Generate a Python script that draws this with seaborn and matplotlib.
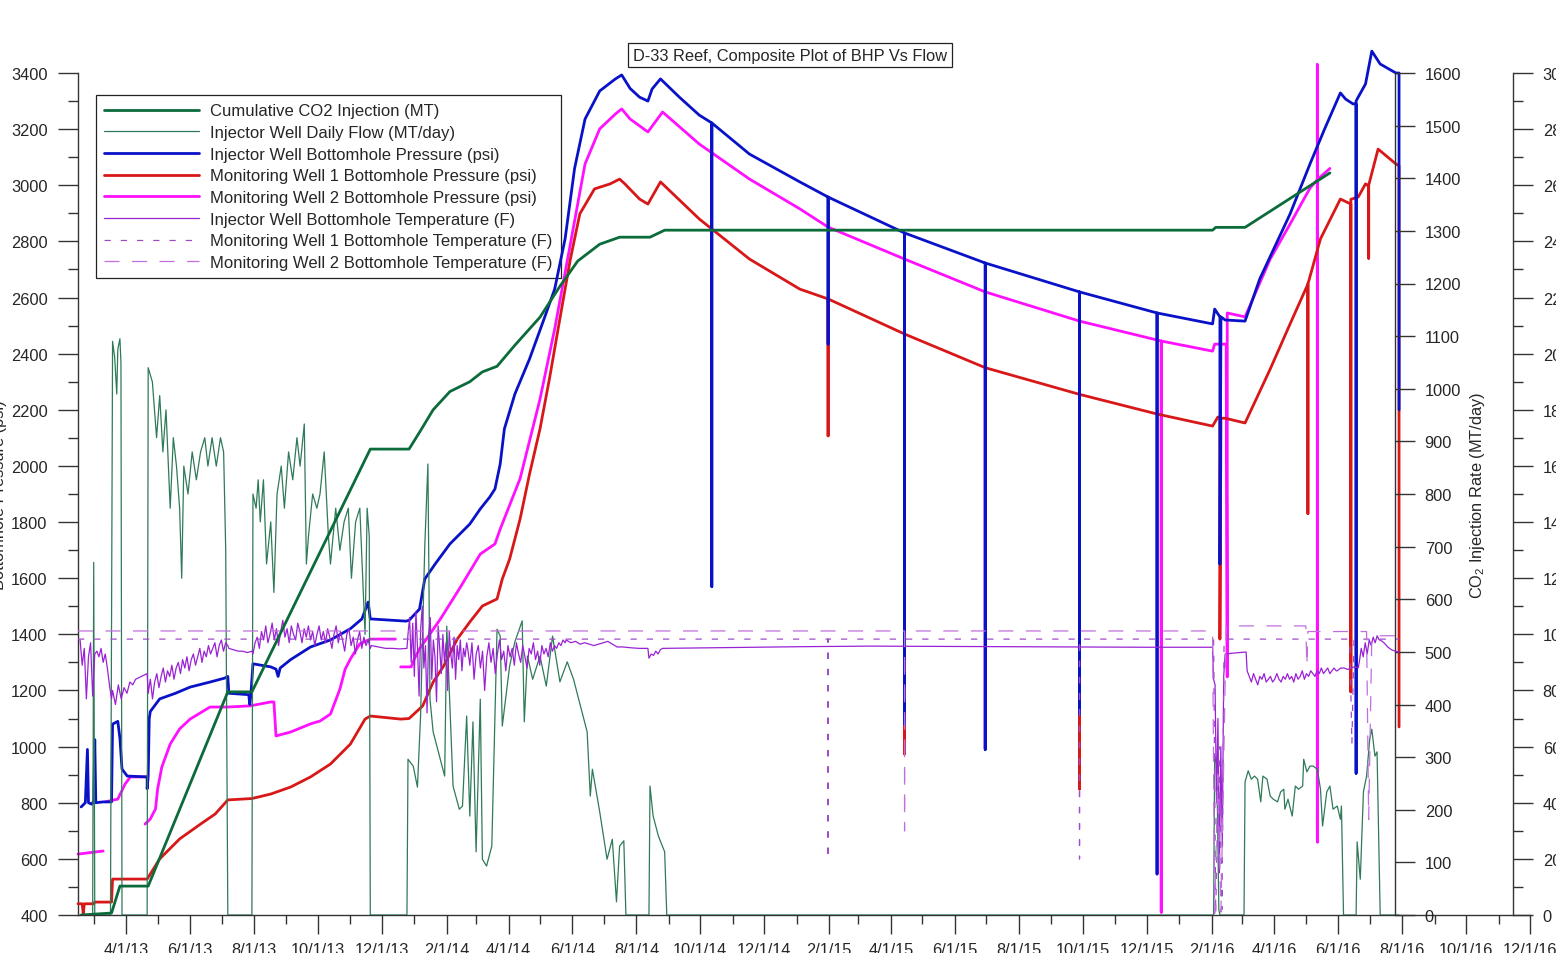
import matplotlib
matplotlib.use("Agg")
import matplotlib.pyplot as plt
import matplotlib.dates as mdates
from matplotlib.lines import Line2D
from matplotlib.ticker import MultipleLocator, FuncFormatter
import numpy as np
import pandas as pd
import seaborn as sns

sns.set_style("ticks")
plt.rcParams["font.family"] = ["Liberation Sans", "DejaVu Sans"]
plt.rcParams["axes.linewidth"] = 1.0

# ---------------- data ----------------
title = "D-33 Reef, Composite Plot of BHP Vs Flow"
legend_labels = [
    "Cumulative CO2 Injection (MT)",
    "Injector Well Daily Flow (MT/day)",
    "Injector Well Bottomhole Pressure (psi)",
    "Monitoring Well 1 Bottomhole Pressure (psi)",
    "Monitoring Well 2 Bottomhole Pressure (psi)",
    "Injector Well Bottomhole Temperature (F)",
    "Monitoring Well 1 Bottomhole Temperature (F)",
    "Monitoring Well 2 Bottomhole Temperature (F)",
]

# cumulative CO2 injected (MT)
cum_co2 = [("2013-02-17", 0), ("2013-03-18", 700), ("2013-03-26", 10300), ("2013-04-22", 10300),
           ("2013-07-07", 79500), ("2013-07-30", 79500), ("2013-11-20", 166000), ("2013-12-27", 166000),
           ("2014-01-06", 172000), ("2014-01-19", 180000), ("2014-02-04", 186500), ("2014-02-23", 190000),
           ("2014-03-07", 193500), ("2014-03-21", 195500), ("2014-04-07", 203000), ("2014-05-01", 213000),
           ("2014-05-20", 224000), ("2014-06-06", 233000), ("2014-06-27", 239000), ("2014-07-16", 241500),
           ("2014-08-14", 241500), ("2014-08-28", 244000), ("2016-02-02", 244000), ("2016-02-05", 245000),
           ("2016-03-04", 245000), ("2016-05-24", 264400)]

# injector daily flow (MT/day)
daily_flow = [
    ("2013-02-14", 0), ("2013-02-28", 0), ("2013-03-01", 670), ("2013-03-02", 0),
    ("2013-03-17", 0), ("2013-03-19", 1090), ("2013-03-21", 1060), ("2013-03-23", 990), ("2013-03-24", 1075),
    ("2013-03-26", 1095), ("2013-03-27", 1050), ("2013-03-28", 0),
    ("2013-04-21", 0), ("2013-04-22", 1040), ("2013-04-26", 1013), ("2013-04-30", 907), ("2013-05-03", 987),
    ("2013-05-06", 880), ("2013-05-09", 960), ("2013-05-13", 773), ("2013-05-16", 907), ("2013-05-19", 853),
    ("2013-05-22", 773), ("2013-05-24", 640), ("2013-05-26", 853), ("2013-05-30", 800), ("2013-06-03", 880),
    ("2013-06-07", 827), ("2013-06-11", 880), ("2013-06-15", 907), ("2013-06-18", 853), ("2013-06-22", 907),
    ("2013-06-26", 853), ("2013-06-30", 907), ("2013-07-03", 880), ("2013-07-05", 693), ("2013-07-07", 0),
    ("2013-07-30", 0), ("2013-07-31", 800), ("2013-08-03", 773), ("2013-08-05", 827), ("2013-08-07", 747),
    ("2013-08-10", 827), ("2013-08-13", 667), ("2013-08-17", 747), ("2013-08-20", 613), ("2013-08-23", 800),
    ("2013-08-27", 853), ("2013-08-30", 773), ("2013-09-03", 880), ("2013-09-07", 827), ("2013-09-11", 907),
    ("2013-09-14", 853), ("2013-09-18", 933), ("2013-09-20", 667), ("2013-09-22", 720), ("2013-09-26", 800),
    ("2013-09-30", 773), ("2013-10-03", 800), ("2013-10-07", 880), ("2013-10-11", 720), ("2013-10-13", 667),
    ("2013-10-18", 773), ("2013-10-22", 693), ("2013-10-26", 747), ("2013-10-30", 773), ("2013-11-02", 640),
    ("2013-11-06", 747), ("2013-11-10", 773), ("2013-11-15", 533), ("2013-11-17", 773), ("2013-11-19", 720),
    ("2013-11-20", 0),
    ("2013-12-25", 0), ("2013-12-26", 296), ("2013-12-31", 283), ("2014-01-04", 243), ("2014-01-07", 378),
    ("2014-01-11", 700), ("2014-01-14", 857), ("2014-01-16", 410), ("2014-01-19", 348), ("2014-01-30", 264),
    ("2014-02-01", 549), ("2014-02-07", 245), ("2014-02-13", 201), ("2014-02-16", 207), ("2014-02-20", 378),
    ("2014-02-23", 188), ("2014-02-26", 367), ("2014-03-01", 120), ("2014-03-05", 410), ("2014-03-07", 106),
    ("2014-03-11", 93), ("2014-03-16", 131), ("2014-03-21", 543), ("2014-03-24", 530), ("2014-03-26", 359),
    ("2014-04-02", 473), ("2014-04-07", 519), ("2014-04-14", 559), ("2014-04-16", 367), ("2014-04-19", 492),
    ("2014-04-24", 448), ("2014-05-01", 492), ("2014-05-07", 435), ("2014-05-13", 530), ("2014-05-20", 443),
    ("2014-05-27", 481), ("2014-06-02", 448), ("2014-06-10", 386), ("2014-06-15", 348), ("2014-06-18", 226),
    ("2014-06-20", 277), ("2014-06-27", 196), ("2014-07-04", 106), ("2014-07-09", 144), ("2014-07-13", 25),
    ("2014-07-16", 131), ("2014-07-20", 141), ("2014-07-22", 0),
    ("2014-08-13", 0), ("2014-08-14", 245), ("2014-08-17", 188), ("2014-08-22", 150), ("2014-08-28", 120),
    ("2014-08-30", 0),
    ("2016-02-03", 0), ("2016-02-04", 302), ("2016-02-06", 287), ("2016-02-08", 10), ("2016-02-09", 0),
    ("2016-03-03", 0), ("2016-03-04", 253), ("2016-03-07", 274), ("2016-03-10", 258), ("2016-03-13", 264),
    ("2016-03-16", 258), ("2016-03-19", 215), ("2016-03-21", 264), ("2016-03-25", 258), ("2016-03-28", 226),
    ("2016-03-31", 220), ("2016-04-04", 215), ("2016-04-07", 234), ("2016-04-10", 239), ("2016-04-11", 201),
    ("2016-04-14", 220), ("2016-04-18", 188), ("2016-04-21", 245), ("2016-04-24", 239), ("2016-04-28", 245),
    ("2016-04-29", 296), ("2016-05-02", 272), ("2016-05-05", 283), ("2016-05-08", 283), ("2016-05-12", 277),
    ("2016-05-15", 239), ("2016-05-17", 169), ("2016-05-21", 234), ("2016-05-24", 245), ("2016-05-27", 201),
    ("2016-05-31", 207), ("2016-06-03", 182), ("2016-06-04", 207), ("2016-06-06", 0),
    ("2016-06-18", 0), ("2016-06-19", 139), ("2016-06-22", 68), ("2016-06-25", 234), ("2016-06-28", 264),
    ("2016-07-01", 334), ("2016-07-03", 353), ("2016-07-06", 302), ("2016-07-08", 310), ("2016-07-11", 0),
    ("2016-07-29", 0),
]

# injector bottomhole pressure (psi)
inj_bhp = [
    ("2013-02-17", 785), ("2013-02-21", 800), ("2013-02-23", 990), ("2013-02-24", 800), ("2013-02-27", 795),
    ("2013-03-01", 805), ("2013-03-02", 1025), ("2013-03-03", 800), ("2013-03-10", 803), ("2013-03-18", 803),
    ("2013-03-19", 1080), ("2013-03-24", 1090), ("2013-03-26", 1030), ("2013-03-28", 920), ("2013-04-02", 895),
    ("2013-04-21", 892), ("2013-04-21", 850), ("2013-04-22", 895), ("2013-04-23", 1100), ("2013-04-24", 1125),
    ("2013-05-03", 1170), ("2013-05-18", 1190), ("2013-06-01", 1212), ("2013-06-20", 1230), ("2013-07-04", 1244),
    ("2013-07-07", 1250), ("2013-07-08", 1190), ("2013-07-27", 1185), ("2013-07-28", 1150), ("2013-07-29", 1185),
    ("2013-07-31", 1295), ("2013-08-17", 1284), ("2013-08-22", 1276), ("2013-08-24", 1250), ("2013-08-26", 1280),
    ("2013-09-05", 1310), ("2013-09-24", 1355), ("2013-10-13", 1380), ("2013-11-01", 1420), ("2013-11-12", 1455),
    ("2013-11-18", 1515), ("2013-11-20", 1455), ("2013-12-24", 1447), ("2013-12-27", 1450), ("2014-01-06", 1490),
    ("2014-01-11", 1597), ("2014-01-21", 1651), ("2014-02-04", 1722), ("2014-02-23", 1793), ("2014-03-05", 1847),
    ("2014-03-14", 1889), ("2014-03-19", 1918), ("2014-03-24", 2007), ("2014-03-28", 2132), ("2014-04-07", 2256),
    ("2014-04-21", 2381), ("2014-05-05", 2525), ("2014-05-15", 2630), ("2014-05-25", 2810), ("2014-06-03", 3060),
    ("2014-06-13", 3236), ("2014-06-27", 3336), ("2014-07-12", 3379), ("2014-07-18", 3393), ("2014-07-26", 3345),
    ("2014-08-04", 3314), ("2014-08-12", 3300), ("2014-08-16", 3343), ("2014-08-24", 3379), ("2014-09-11", 3314),
    ("2014-09-30", 3250), ("2014-10-12", 3222), ("2014-10-12", 1570), ("2014-10-12", 3222), ("2014-11-17", 3111),
    ("2015-01-04", 3012), ("2015-01-31", 2958), ("2015-01-31", 2434), ("2015-01-31", 2958), ("2015-04-14", 2830),
    ("2015-04-14", 1080), ("2015-04-14", 2830), ("2015-06-30", 2723), ("2015-06-30", 990), ("2015-06-30", 2723),
    ("2015-09-28", 2620), ("2015-09-28", 1115), ("2015-09-28", 2620), ("2015-12-11", 2545), ("2015-12-11", 546),
    ("2015-12-11", 2545), ("2016-02-02", 2506), ("2016-02-04", 2559), ("2016-02-09", 2531), ("2016-02-09", 1650),
    ("2016-02-10", 2531), ("2016-02-14", 2520), ("2016-03-04", 2516), ("2016-03-18", 2666), ("2016-04-16", 2898),
    ("2016-05-05", 3076), ("2016-05-19", 3201), ("2016-06-03", 3329), ("2016-06-08", 3307), ("2016-06-15", 3290),
    ("2016-06-18", 3290), ("2016-06-18", 905), ("2016-06-18", 3300), ("2016-06-20", 3314), ("2016-06-27", 3361),
    ("2016-07-03", 3478), ("2016-07-11", 3432), ("2016-07-26", 3400), ("2016-07-29", 3400), ("2016-07-29", 2200),
]

# monitoring well 1 bottomhole pressure (psi)
mw1_bhp = [
    ("2013-02-14", 440), ("2013-02-18", 440), ("2013-02-19", 405), ("2013-02-20", 440), ("2013-03-01", 440),
    ("2013-03-02", 446), ("2013-03-18", 446), ("2013-03-19", 528), ("2013-04-21", 528), ("2013-05-03", 600),
    ("2013-05-22", 671), ("2013-06-11", 724), ("2013-06-25", 760), ("2013-07-07", 810), ("2013-07-30", 815),
    ("2013-08-17", 831), ("2013-09-05", 856), ("2013-09-24", 892), ("2013-10-13", 938), ("2013-11-01", 1009),
    ("2013-11-15", 1098), ("2013-11-20", 1109), ("2013-12-19", 1098), ("2013-12-27", 1100), ("2014-01-09", 1145),
    ("2014-01-19", 1230), ("2014-01-29", 1287), ("2014-02-11", 1383), ("2014-02-23", 1444), ("2014-03-07", 1501),
    ("2014-03-21", 1526), ("2014-03-26", 1597), ("2014-04-02", 1668), ("2014-04-12", 1811), ("2014-04-21", 1971),
    ("2014-05-01", 2132), ("2014-05-10", 2310), ("2014-05-20", 2525), ("2014-05-30", 2737), ("2014-06-08", 2898),
    ("2014-06-22", 2987), ("2014-07-07", 3005), ("2014-07-16", 3022), ("2014-07-21", 3005), ("2014-08-04", 2951),
    ("2014-08-12", 2933), ("2014-08-24", 3012), ("2014-09-30", 2880), ("2014-11-17", 2737), ("2015-01-04", 2630),
    ("2015-01-31", 2595), ("2015-01-31", 2107), ("2015-01-31", 2595), ("2015-04-14", 2470), ("2015-04-14", 974),
    ("2015-04-14", 2470), ("2015-06-30", 2350), ("2015-09-28", 2255), ("2015-09-28", 849), ("2015-09-28", 2255),
    ("2015-12-11", 2185), ("2016-02-02", 2142), ("2016-02-07", 2174), ("2016-02-09", 2174), ("2016-02-09", 1383),
    ("2016-02-10", 2170), ("2016-02-14", 2170), ("2016-03-04", 2153), ("2016-03-28", 2345), ("2016-04-16", 2506),
    ("2016-05-03", 2648), ("2016-05-03", 1830), ("2016-05-03", 2648), ("2016-05-15", 2809), ("2016-06-03", 2951),
    ("2016-06-13", 2933), ("2016-06-13", 1195), ("2016-06-13", 2950), ("2016-06-20", 2958), ("2016-06-27", 3005),
    ("2016-06-30", 2997), ("2016-06-30", 2740), ("2016-06-30", 3000), ("2016-07-09", 3129), ("2016-07-26", 3076),
    ("2016-07-29", 3070), ("2016-07-29", 1070),
]

# monitoring well 2 bottomhole pressure (psi); None = gap in record
mw2_bhp = [
    ("2013-02-14", 617), ("2013-03-10", 628), (None, None),
    ("2013-03-12", 803), ("2013-03-24", 813), ("2013-03-31", 867), ("2013-04-05", 892), ("2013-04-21", 892), (None, None),
    ("2013-04-19", 724), ("2013-04-24", 742), ("2013-04-29", 778), ("2013-05-01", 849), ("2013-05-05", 927),
    ("2013-05-13", 1009), ("2013-05-22", 1063), ("2013-06-01", 1098), ("2013-06-20", 1141), ("2013-07-07", 1141),
    ("2013-07-28", 1145), ("2013-08-17", 1159), ("2013-08-20", 1159), ("2013-08-22", 1038), ("2013-09-05", 1052),
    ("2013-09-24", 1081), ("2013-10-03", 1091), ("2013-10-13", 1116), ("2013-10-22", 1205), ("2013-10-27", 1276),
    ("2013-11-01", 1312), ("2013-11-10", 1366), ("2013-11-20", 1383), ("2013-12-14", 1383), (None, None),
    ("2013-12-19", 1284), ("2013-12-29", 1284), ("2014-01-01", 1312), ("2014-01-06", 1348), ("2014-01-26", 1455),
    ("2014-02-13", 1562), ("2014-03-05", 1686), ("2014-03-19", 1722), ("2014-03-24", 1775), ("2014-04-12", 1955),
    ("2014-05-01", 2238), ("2014-05-15", 2488), ("2014-05-30", 2791), ("2014-06-13", 3076), ("2014-06-27", 3201),
    ("2014-07-12", 3254), ("2014-07-18", 3272), ("2014-07-26", 3236), ("2014-08-12", 3190), ("2014-08-26", 3261),
    ("2014-09-30", 3147), ("2014-11-17", 3022), ("2015-01-04", 2916), ("2015-01-31", 2851), ("2015-04-14", 2737),
    ("2015-04-14", 1400), ("2015-04-14", 2737), ("2015-06-30", 2620), ("2015-06-30", 991), ("2015-06-30", 2620),
    ("2015-09-28", 2516), ("2015-09-28", 1300), ("2015-09-28", 2516), ("2015-12-15", 2445), ("2015-12-15", 410),
    ("2015-12-15", 2445), ("2016-02-02", 2409), ("2016-02-04", 2434), ("2016-02-15", 2434), ("2016-02-16", 1248),
    ("2016-02-16", 2545), ("2016-03-04", 2531), ("2016-03-28", 2737), ("2016-04-16", 2862), ("2016-05-05", 2990),
    ("2016-05-12", 3020), ("2016-05-12", 3430), ("2016-05-12", 660), ("2016-05-12", 3020), ("2016-05-24", 3060),
]

# injector bottomhole temperature (F): evenly sampled stretches of the record
inj_temp_stretches = [
    ("2013-02-16", "2013-03-18", [98, 89, 95, 77, 92, 97, 78, 93, 94, 92, 95, 90, 93, 88, 82, 77]),
    ("2013-03-19", "2013-04-21", [80, 75, 82, 77, 81, 79, 83, 82, 84, 84.5, 85, 85.5, 86]),
    ("2013-04-22", "2013-07-07", [79, 84, 77, 83, 86, 81, 85, 88, 83, 87, 85, 89, 84, 88, 90, 86, 91, 88, 92,
                                  87, 91, 93, 89, 92, 95, 90, 94, 92, 96, 93, 95, 97, 92, 96, 98, 94, 97, 96]),
    ("2013-07-08", "2013-07-30", [95, 94.5, 94, 94, 93.5, 94]),
    ("2013-07-31", "2013-11-20", [93, 97, 99, 95, 101, 98, 103, 97, 100, 104, 98, 102, 96, 101, 105, 99, 102,
                                  97, 103, 100, 98, 104, 101, 97, 102, 99, 103, 98, 101, 96, 100, 103, 98, 101,
                                  97, 102, 99, 95, 100, 103, 97, 101, 98, 94, 100, 102, 96, 99, 93, 98, 101, 95,
                                  99, 96, 98, 95]),
    ("2013-11-21", "2013-12-25", [96, 95.5, 95, 95, 94.8, 95]),
    ("2013-12-26", "2014-02-20", [100, 106, 90, 104, 85, 108, 95, 78, 102, 110, 88, 96, 72, 100, 106, 84, 98,
                                  92, 76, 103, 95, 86, 100, 90, 97, 80, 101, 93, 88, 99, 84, 96, 91, 98, 87,
                                  95, 92, 97]),
    ("2014-02-21", "2014-05-25", [95, 89, 97, 84, 93, 96, 88, 94, 80, 92, 97, 90, 95, 86, 93, 98, 91, 94, 87,
                                  96, 92, 95, 89, 97, 93, 90, 96, 92, 88, 95, 93, 97, 91, 94, 89, 96, 93, 95,
                                  92, 97, 94, 96, 95, 97, 96, 98, 97]),
    ("2014-05-26", "2014-07-18", [98, 97, 97.5, 96.5, 97, 96.5, 96, 96.5, 97, 97.5, 96.5, 95.5, 95.5]),
    ("2014-07-19", "2014-08-12", [95.5, 95.2, 95, 95]),
    ("2014-08-13", "2014-08-26", [91.5, 93, 92.5, 94, 93, 94.5, 95]),
    ("2014-08-27", "2016-02-02", [95, 95.3, 95.6, 95.8, 95.7, 95.6, 95.5, 95.4, 95.4]),
    ("2016-02-03", "2016-02-14", [84, 82, 40, 70, 15, 60, 25, 85, 93]),
    ("2016-02-15", "2016-03-05", [93, 93.3, 93.5, 93.7]),
    ("2016-03-06", "2016-05-30", [87, 85, 83, 86, 84, 82, 85, 84, 86, 83, 84, 85, 83, 84, 86, 84, 83, 85, 84,
                                  86, 84, 85, 83, 86, 84, 85, 87, 84, 86, 85, 87, 86, 85, 87, 86, 88, 86, 87,
                                  88, 86, 87, 88, 87]),
    ("2016-05-31", "2016-06-20", [87, 88, 88, 87.5, 88, 88.5, 88]),
    ("2016-06-21", "2016-07-10", [90, 95, 92, 97, 93, 98, 96, 99, 97, 99.5, 98]),
    ("2016-07-11", "2016-07-29", [98, 97, 95.5, 94.5, 94, 93.7]),
]

# monitoring well temperatures (F)
mw1_temp = [("2013-02-14", 98.3), ("2015-01-31", 98.3), ("2015-01-31", 20), ("2015-01-31", 98.3),
            ("2015-09-28", 98.3), ("2015-09-28", 20), ("2015-09-28", 98.3), ("2016-02-03", 98.3),
            ("2016-02-05", 0.5), ("2016-02-08", 60), ("2016-02-11", 2), ("2016-02-13", 98.3),
            ("2016-06-12", 98.3), ("2016-06-14", 61), ("2016-06-16", 98.3), ("2016-07-29", 98.3)]
mw2_temp = [("2013-02-14", 101.2), ("2015-04-14", 101.2), ("2015-04-14", 30), ("2015-04-14", 101.2),
            ("2016-02-02", 101.2), ("2016-02-04", 0.5), ("2016-02-07", 50), ("2016-02-10", 1),
            ("2016-02-15", 103), ("2016-05-01", 103), ("2016-05-02", 89), ("2016-05-03", 101),
            ("2016-06-28", 101), ("2016-06-30", 34), ("2016-07-03", 99), ("2016-07-05", 99.5),
            ("2016-07-29", 99.5)]

# axis ranges
x_start, x_end = "2013-02-14", "2016-12-01"
p_min, p_max = 400, 3400
q_min, q_max = 0, 1600
t_min, t_max = 0, 300

# ---------------- styles ----------------
C_CUM, C_FLOW = "#0b6b3a", "#2f7a58"
C_INJ, C_MW1, C_MW2 = "#0a12c8", "#d81818", "#ff10ff"
C_TINJ, C_TMW1, C_TMW2 = "#9a22d4", "#a04cc8", "#c070dc"
LS_T1 = (0, (5, 8))
LS_T2 = (0, (12, 10))
FS = 11.8
TXT = "#262626"


def pairs_to_segments(pairs):
    segs, cur = [], []
    for d, v in pairs:
        if d is None:
            if cur:
                segs.append(cur)
            cur = []
        else:
            cur.append((d, v))
    if cur:
        segs.append(cur)
    return segs


def draw(ax, pairs, color, lw, ls="-", z=2, clip=True):
    for seg in pairs_to_segments(pairs):
        df = pd.DataFrame(seg, columns=["date", "value"])
        df["date"] = pd.to_datetime(df["date"])
        sns.lineplot(data=df, x="date", y="value", ax=ax, color=color, linewidth=lw,
                     linestyle=ls, estimator=None, sort=False, errorbar=None,
                     legend=False, zorder=z, clip_on=clip)


# ---------------- figure ----------------
W, H = 1556, 954
fig = plt.figure(figsize=(W / 100, H / 100), dpi=100)
L, R, B, T = 78, 1530, 916, 74
ax = fig.add_axes([L / W, 1 - B / H, (R - L) / W, (B - T) / H])
ax2 = ax.twinx()
ax3 = ax.twinx()
ax4 = ax.twinx()
for a in (ax2, ax3, ax4):
    a.patch.set_visible(False)

# flow (right axis)
draw(ax2, daily_flow, C_FLOW, 0.9)
# pressures (left axis); peaks above 3400 psi spill over the frame as in the source
draw(ax, inj_bhp, C_INJ, 2.0, z=3, clip=False)
draw(ax, mw2_bhp, C_MW2, 2.0, z=2.5, clip=False)
draw(ax, mw1_bhp, C_MW1, 2.0, z=2.8, clip=False)
# cumulative (own scale)
draw(ax4, cum_co2, C_CUM, 2.0)
# temperatures
inj_temp = []
for s, e, vals in inj_temp_stretches:
    for d, v in zip(pd.date_range(s, e, periods=len(vals)), vals):
        inj_temp.append((d, v))
draw(ax3, inj_temp, C_TINJ, 0.9)
draw(ax3, mw1_temp, C_TMW1, 0.9, ls=LS_T1)
draw(ax3, mw2_temp, C_TMW2, 0.9, ls=LS_T2)

# ---------------- axes styling ----------------
x0, x1 = pd.Timestamp(x_start), pd.Timestamp(x_end)
ax.set_xlim(x0, x1)
ax.set_ylim(p_min, p_max)
ax2.set_ylim(q_min, q_max)
ax3.set_ylim(t_min, t_max)
ax4.set_ylim(0, 300000)

for a in (ax, ax2, ax3, ax4):
    a.set_xlabel("")
    a.set_ylabel("")

for sp in ("top", "right"):
    ax.spines[sp].set_visible(False)
for a in (ax2, ax3, ax4):
    for sp in ("top", "left", "bottom"):
        a.spines[sp].set_visible(False)
ax2.spines["right"].set_position(("axes", (1395 - L) / (R - L)))
ax3.spines["right"].set_position(("axes", (1513 - L) / (R - L)))
ax4.spines["right"].set_visible(False)
ax4.yaxis.set_visible(False)
for a in (ax, ax2, ax3):
    for sp in a.spines.values():
        sp.set_color("#333333")
        sp.set_linewidth(1.0)

ax.xaxis.set_major_locator(mdates.MonthLocator(bymonth=(2, 4, 6, 8, 10, 12)))
ax.xaxis.set_minor_locator(mdates.MonthLocator())
ax.xaxis.set_major_formatter(FuncFormatter(
    lambda v, p: (lambda d: f"{d.month}/{d.day}/{d.year % 100:02d}")(mdates.num2date(v))))
ax.tick_params(axis="x", which="major", length=13.7, width=1, pad=5.5, labelsize=FS,
               colors="#333333", labelcolor=TXT)
ax.tick_params(axis="x", which="minor", length=6.5, width=1, colors="#333333")

ax.yaxis.set_major_locator(MultipleLocator(200))
ax.yaxis.set_minor_locator(MultipleLocator(100))
ax.tick_params(axis="y", which="major", length=14.4, width=1, pad=7.5, labelsize=FS,
               colors="#333333", labelcolor=TXT)
ax.tick_params(axis="y", which="minor", length=7.2, width=1, colors="#333333")

ax2.yaxis.set_major_locator(MultipleLocator(100))
ax2.tick_params(axis="y", which="major", length=14.4, width=1, pad=7, labelsize=FS,
                colors="#333333", labelcolor=TXT)

ax3.yaxis.set_major_locator(MultipleLocator(20))
ax3.yaxis.set_minor_locator(MultipleLocator(10))
ax3.tick_params(axis="y", which="major", length=14.4, width=1, pad=7, labelsize=FS,
                colors="#333333", labelcolor=TXT)
ax3.tick_params(axis="y", which="minor", length=7.2, width=1, colors="#333333")

ax.set_ylabel("Bottomhole Pressure (psi)", fontsize=FS, color=TXT)
ax.yaxis.set_label_coords((7 - L) / (R - L), 0.5)
ax2.set_ylabel("CO$_\\mathregular{2}$ Injection Rate (MT/day)", fontsize=FS, color=TXT)
ax2.yaxis.set_label_coords((1468 - L) / (R - L), 0.5)

# title
fig.text(790 / W, 1 - 56 / H, title, ha="center", va="center", fontsize=FS, color=TXT,
         bbox=dict(boxstyle="square,pad=0.28", fc="white", ec="#222222", lw=0.9))

# legend
handles = [
    Line2D([], [], color=C_CUM, lw=2.0),
    Line2D([], [], color=C_FLOW, lw=0.9),
    Line2D([], [], color=C_INJ, lw=2.0),
    Line2D([], [], color=C_MW1, lw=2.0),
    Line2D([], [], color=C_MW2, lw=2.0),
    Line2D([], [], color=C_TINJ, lw=0.9),
    Line2D([], [], color=C_TMW1, lw=0.9, ls=LS_T1),
    Line2D([], [], color=C_TMW2, lw=0.9, ls=LS_T2),
]
leg = ax.legend(handles, legend_labels, loc="upper left",
                bbox_to_anchor=((96 - L) / (R - L), (B - 96) / (B - T)), borderaxespad=0,
                frameon=True, fancybox=False, framealpha=1, edgecolor="#222222",
                fontsize=12, handlelength=5.7, handletextpad=0.66, labelspacing=0.4,
                borderpad=0.5)
leg.get_frame().set_linewidth(0.9)
for t in leg.get_texts():
    t.set_color(TXT)
leg.set_zorder(1)

fig.savefig("out.png", dpi=100)
